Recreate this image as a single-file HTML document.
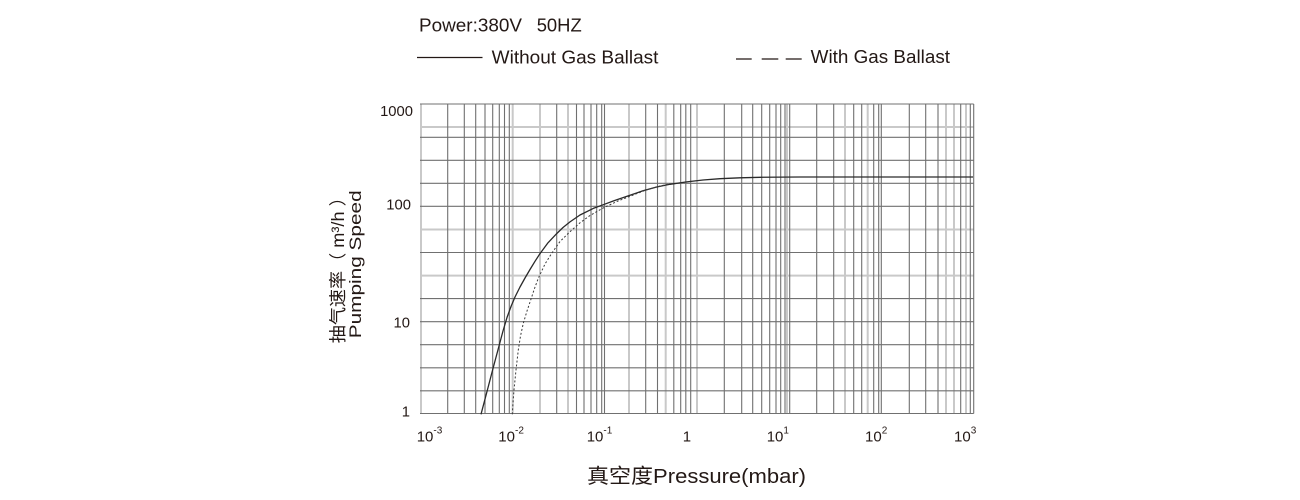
<!DOCTYPE html>
<html><head><meta charset="utf-8"><style>
html,body{margin:0;padding:0;background:#fff;}
svg{display:block;}
text{font-family:"Liberation Sans","Noto Sans CJK SC",sans-serif;fill:#231815;}
</style></head><body>
<svg width="1300" height="500" viewBox="0 0 1300 500" xmlns="http://www.w3.org/2000/svg">
<text x="419" y="31.7" font-size="18.5" textLength="103" lengthAdjust="spacingAndGlyphs">Power:380V</text>
<text x="536.7" y="31.7" font-size="18.5" textLength="45" lengthAdjust="spacingAndGlyphs">50HZ</text>
<line x1="417" y1="57.5" x2="482.5" y2="57.5" stroke="#231815" stroke-width="1.2"/>
<text x="491.7" y="63.3" font-size="18.5" textLength="166.7" lengthAdjust="spacingAndGlyphs">Without Gas Ballast</text>
<path d="M736 59H751.7M761.7 59H778.3M785.7 59H801.7" stroke="#231815" stroke-width="1.2"/>
<text x="810.7" y="63" font-size="18.5" textLength="139.3" lengthAdjust="spacingAndGlyphs">With Gas Ballast</text>

<path stroke="#c9c9c9" stroke-width="2" fill="none" d="M421 104V413.5M512.7 104V413.5M540 104V413.5M568 104V413.5M629 104V413.5M665.7 104V413.5M697 104V413.5M787 104V413.5M845 104V413.5M867.7 104V413.5M946 104V413.5M954 104V413.5M966 104V413.5M420 127H973.7M420 229.5H973.7M420 275.6H973.7"/>

<path stroke="#707070" stroke-width="1.1" fill="none" d="M447.7 104V413.5M464.3 104V413.5M475.7 104V413.5M485 104V413.5M492.7 104V413.5M499.3 104V413.5M504.5 104V413.5M509.3 104V413.5M556.7 104V413.5M576.5 104V413.5M584 104V413.5M591 104V413.5M596.7 104V413.5M601.7 104V413.5M604.5 104V413.5M645.7 104V413.5M657.5 104V413.5M673.8 104V413.5M680.7 104V413.5M685.8 104V413.5M690.7 104V413.5M724.3 104V413.5M741.7 104V413.5M752.7 104V413.5M761.7 104V413.5M769.7 104V413.5M776 104V413.5M780.7 104V413.5M785 104V413.5M789.7 104V413.5M816.7 104V413.5M833.7 104V413.5M853.7 104V413.5M861.7 104V413.5M873.7 104V413.5M878.7 104V413.5M881.3 104V413.5M909.3 104V413.5M925.7 104V413.5M938 104V413.5M960.7 104V413.5M970.3 104V413.5M973.7 104V413.5M420 104H973.7M420 137.3H973.7M420 160.3H973.7M420 183.3H973.7M420 206.3H973.7M420 252.5H973.7M420 298.6H973.7M420 321.7H973.7M420 344.7H973.7M420 367.8H973.7M420 390.8H973.7M420 413.5H973.7"/>

<polyline fill="none" stroke="#2a2a2a" stroke-width="1.3" stroke-linejoin="round" points="481,414.3 487,391.5 493,368.5 499,346 503,331 507,317.5 511,306.5 515,297 520,287 525,278 530,269.5 535,261.3 540,253.6 548,242.8 556.7,233.6 563,227.5 570,221.9 580,215 593.3,208.4 603.3,204.7 615,200.4 630,195.2 643,190.8 656.7,187 670,184.3 686.7,181.9 703,180 720,178.7 740,177.8 760,177.3 800,177 973,177"/>
<polyline fill="none" stroke="#3a3a3a" stroke-width="1" stroke-dasharray="2,2" points="512.3,414.3 513.2,400 514,390 516,370 518.3,350 520.5,336 523.3,323.3 527,311 530.7,300 534.5,288.5 538.3,278.3 545,264 551.7,253.3 560,241.5 570,231.7 580,222.8 590,215.5 603.3,207.9 618,201 633.3,195 646,190 660,186 670,183.8"/>

<text x="413" y="116" font-size="14.8" text-anchor="end">1000</text>
<text x="411" y="209.3" font-size="14.8" text-anchor="end">100</text>
<text x="410" y="327.7" font-size="14.8" text-anchor="end">10</text>
<text x="410" y="416.7" font-size="14.8" text-anchor="end">1</text>

<text x="416.7" y="441.7" font-size="15">10<tspan font-size="10" dy="-8">-3</tspan></text>
<text x="498.3" y="441.7" font-size="15">10<tspan font-size="10" dy="-8">-2</tspan></text>
<text x="586.7" y="441.7" font-size="15">10<tspan font-size="10" dy="-8">-1</tspan></text>
<text x="682.8" y="441.7" font-size="15">1</text>
<text x="766.7" y="441.7" font-size="15">10<tspan font-size="10" dy="-8">1</tspan></text>
<text x="865" y="441.7" font-size="15">10<tspan font-size="10" dy="-8">2</tspan></text>
<text x="954" y="441.7" font-size="15">10<tspan font-size="10" dy="-8">3</tspan></text>

<text x="587" y="483" font-size="20.5" textLength="219" lengthAdjust="spacingAndGlyphs">真空度Pressure(mbar)</text>
<text transform="translate(344,343.3) rotate(-90)" font-size="17.5" textLength="155" lengthAdjust="spacingAndGlyphs">抽气速率（ m³/h ）</text>
<text transform="translate(361,338.3) rotate(-90)" font-size="17" textLength="148" lengthAdjust="spacingAndGlyphs">Pumping Speed</text>
</svg>
</body></html>
